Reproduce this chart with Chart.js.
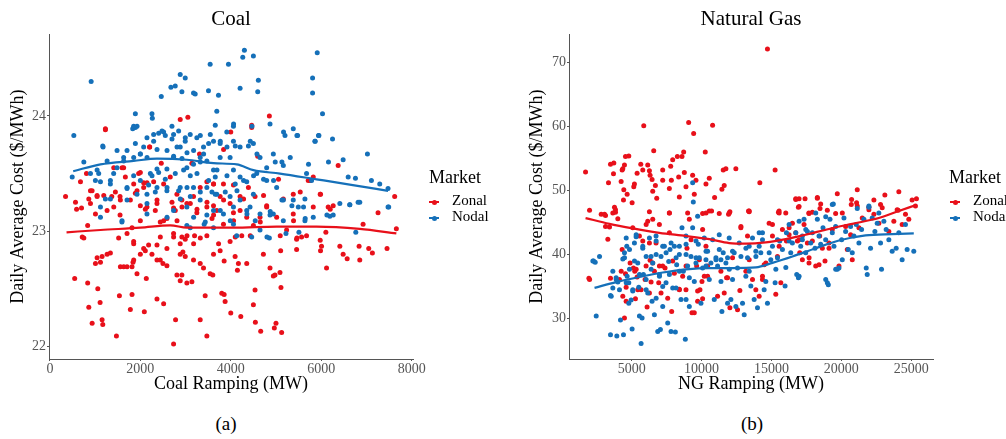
<!DOCTYPE html>
<html>
<head>
<meta charset="utf-8">
<script src="https://cdn.jsdelivr.net/npm/chart.js@4"></script>
<style>
  html, body { margin: 0; padding: 0; background: #fff; }
  body { width: 1006px; height: 439px; position: relative; overflow: hidden; font-family: 'Liberation Serif', 'DejaVu Serif', serif; }
  .panel { position: absolute; top: 0; height: 400px; }
  .legend { position: absolute; color: #000; white-space: nowrap; }
  .legend .ttl { position: absolute; font-size: 18px; line-height: 18px; }
  .legend .item { position: absolute; font-size: 15px; line-height: 15px; }
  .key { position: absolute; width: 10px; height: 2px; }
  .key::after { content: ''; position: absolute; left: 2.5px; top: -1.5px; width: 5px; height: 5px; border-radius: 50%; background: inherit; }
  .sub { position: absolute; top: 413px; font-size: 19px; line-height: 22px; width: 60px; text-align: center; }
</style>
</head>
<body>
<div class="panel" style="left:0; width:500px;"><canvas id="coalChart"></canvas></div>
<div class="panel" style="left:520px; width:486px;"><canvas id="gasChart"></canvas></div>

<div class="legend" style="left:429px; top:0;">
  <div class="ttl" style="left:0; top:168px;">Market</div>
  <div class="key" style="left:0; top:201px; background:#e8101a;"></div>
  <div class="item" style="left:23px; top:193px;">Zonal</div>
  <div class="key" style="left:0; top:217px; background:#1570b9;"></div>
  <div class="item" style="left:23px; top:209px;">Nodal</div>
</div>
<div class="legend" style="left:949px; top:0;">
  <div class="ttl" style="left:0; top:168px;">Market</div>
  <div class="key" style="left:1px; top:201px; background:#e8101a;"></div>
  <div class="item" style="left:24px; top:193px;">Zonal</div>
  <div class="key" style="left:1px; top:217px; background:#1570b9;"></div>
  <div class="item" style="left:24px; top:209px;">Nodal</div>
</div>

<div class="sub" style="left:196px;">(a)</div>
<div class="sub" style="left:722px;">(b)</div>

<script>
const RED = '#e8101a';
const BLUE = '#1570b9';
const FONT = "'Liberation Serif', 'DejaVu Serif', serif";

// ---- Coal panel: [ramping MW, cost $/MWh] ----
const coalXTicks = [0, 2000, 4000, 6000, 8000];
const coalYTicks = [22, 23, 24];

const coalNodal = [
  [529,23.83],[912,24.30],[493,23.47],[750,23.60],[1169,23.74],[1265,23.61],[1485,23.70],[1706,23.70],
  [1890,24.02],[1890,23.90],[1831,23.89],[2257,24.02],[2265,23.98],[2463,24.17],[2676,24.25],[2772,24.26],
  [2882,24.36],[2993,24.33],[2919,24.21],[3176,24.20],[3213,24.19],[3507,24.22],[3544,24.45],[3728,24.18],
  [3691,24.04],[3949,24.45],[4206,24.24],[4265,24.51],[4301,24.57],[4500,24.52],[4610,24.31],[4596,24.21],
  [4868,23.93],[5199,23.83],[5382,23.89],[5478,23.83],[5809,24.33],[5809,24.20],[5912,24.55],[6029,24.02],
  [5860,23.78],[5949,23.83],[6250,23.80],[7022,23.67],[6485,23.62],[6596,23.47],[6757,23.46],[7110,23.44],
  [7294,23.41],[7478,23.37],[7493,23.21],[6816,23.25],[6632,23.23],[6412,23.24],[5676,23.50],[5787,23.44],
  [5640,23.28],[5382,23.27],[5162,23.27],[5015,23.38],[5162,23.57],[4941,23.67],[4794,23.55],[4647,23.64],
  [4500,23.76],[4390,23.74],[4206,23.73],[4059,23.78],[4059,23.91],[3912,23.86],[3765,23.76],[3618,23.78],
  [3397,23.73],[3250,23.81],[3103,23.84],[2993,23.78],[2882,23.73],[2735,23.84],[2699,23.91],[2515,23.86],
  [2294,23.84],[2147,23.81],[2074,23.73],[2000,23.67],[1853,23.64],[1632,23.61],[1485,23.55],[1338,23.44],
  [1118,23.43],[1044,23.53],[897,23.50],[1118,23.21],[1338,23.28],[1706,23.38],[2000,23.44],[2221,23.50],
  [2368,23.54],[2588,23.54],[2735,23.64],[3029,23.55],[3176,23.58],[3324,23.64],[3471,23.61],[3618,23.53],
  [3765,23.64],[3985,23.64],[4059,23.53],[4206,23.47],[4353,23.43],[4574,23.50],[4794,23.44],[4500,23.32],
  [4206,23.27],[3985,23.30],[3691,23.32],[3471,23.38],[3176,23.38],[2882,23.38],[2588,23.35],[2368,23.38],
  [2147,23.32],[1926,23.32],[1706,23.27],[3029,23.21],[3324,23.27],[3618,23.18],[4059,23.21],[4353,23.18],
  [4647,23.15],[4941,23.15],[6632,23.23],[6853,23.25],[7478,23.21],[6765,22.99],[6265,23.14],[6191,23.13],
  [5824,23.12],[5640,23.09],[5493,23.21],[5507,22.99],[5221,22.98],[5162,23.09],[4868,23.14],[4853,22.94],
  [4647,23.01],[4463,22.95],[4426,23.21],[4132,22.96],[4059,23.06],[3838,23.15],[3618,23.03],[3412,23.06],
  [3471,23.14],[3103,23.03],[3029,23.05],[2735,23.18],[2147,23.24],[2147,23.15],[1118,23.12],[1593,23.08],
  [1852,23.91],[1927,23.91],[2405,23.85],[2479,23.87],[2552,23.83],[2700,23.80],[2847,23.87],[2994,23.81],
  [3326,23.83],[3547,23.84],[3510,23.76],[1175,23.73],[1890,23.76],[2294,23.78],[2369,23.71],[2590,23.70],
  [2811,23.73],[3032,23.68],[3178,23.70],[3399,23.67],[2000,23.67],[2148,23.64],[1631,23.64],[2736,23.65],
  [2921,23.63],[3326,23.60],[1079,23.50],[1410,23.50],[1852,23.48],[2258,23.48],[2405,23.51],[2552,23.45],
  [2773,23.50],[2957,23.53],[3105,23.48],[3253,23.50],[3510,23.44],[3657,23.47],[1337,23.41],[1706,23.37],
  [2183,23.40],[2331,23.34],[2590,23.38],[2847,23.35],[3032,23.38],[3105,23.30],[3326,23.34],[3584,23.34],
  [1006,23.44],[1227,23.28],[2884,23.28],[1595,23.09],[3178,23.12],[3436,23.08],[2590,23.12],
  [3657,23.92],[4062,23.93],[4468,23.91],[3768,23.78],[3916,23.73],[4099,23.74],[4431,23.78],[4579,23.67],
  [5167,23.86],[5463,23.83],[5940,23.83],[5867,23.78],[4983,23.60],[5131,23.60],[5315,23.64],[5719,23.58],
  [6161,23.60],[3695,23.53],[3916,23.48],[4099,23.41],[4283,23.44],[4504,23.48],[4725,23.45],[4946,23.44],
  [3878,23.34],[4137,23.35],[3657,23.32],[5131,23.27],[5352,23.22],[5609,23.21],[5646,23.11],[4873,23.17],
  [6126,23.14],[3768,23.18],[4358,23.15],[3989,23.09],[4541,23.09],[4800,22.95]
];

const coalZonal = [
  [1228,23.89],[3051,23.99],[4853,24.00],[4463,23.92],[4463,23.90],[4000,23.86],[2882,23.97],[2206,23.73],
  [3309,23.67],[3140,23.59],[4596,23.65],[2463,23.59],[1963,23.50],[2147,23.42],[1669,23.47],[1596,23.55],
  [1412,23.55],[809,23.50],[676,23.43],[897,23.35],[346,23.30],[566,23.25],[699,23.20],[860,23.28],
  [1044,23.30],[1191,23.31],[1368,23.30],[1551,23.30],[1853,23.41],[1890,23.33],[2074,23.38],[2294,23.43],
  [2515,23.41],[2662,23.47],[2809,23.32],[2919,23.27],[3029,23.24],[3176,23.30],[3324,23.38],[3471,23.43],
  [3618,23.41],[3765,23.30],[3838,23.41],[4059,23.40],[4206,23.30],[4390,23.38],[4537,23.30],[4794,23.22],
  [5162,23.28],[5382,23.32],[5713,23.44],[5824,23.47],[5985,23.32],[6154,23.21],[6375,23.57],[7625,23.30],
  [7257,23.16],[3985,23.24],[3471,23.21],[2735,23.20],[2368,23.24],[2000,23.22],[1551,23.14],[1265,23.18],
  [1007,23.15],[590,23.19],[715,22.95],[750,22.94],[835,23.05],[1007,22.72],[1044,22.77],[1154,22.78],
  [1118,22.73],[1265,22.80],[1338,22.81],[548,22.59],[835,22.55],[1059,22.50],[1110,22.38],[860,22.34],
  [934,22.20],[1154,22.23],[1169,22.19],[1471,22.09],[1537,22.44],[1779,22.32],[1816,22.45],[1559,22.69],
  [1632,22.69],[1706,22.69],[1816,22.69],[1838,22.73],[1853,22.75],[1926,22.63],[2000,22.80],[2088,22.30],
  [2110,22.83],[2132,22.59],[2257,22.80],[2368,22.41],[2515,22.37],[2368,22.75],[2441,22.75],[2500,22.72],
  [2588,22.70],[2779,22.23],[2735,22.02],[2809,22.62],[2882,22.57],[2919,22.62],[3029,22.55],[3140,22.56],
  [2882,22.80],[2941,22.82],[2993,22.78],[3176,22.75],[3324,22.72],[3397,22.68],[3324,22.23],[3434,22.44],
  [3471,22.09],[3544,22.63],[3603,22.62],[3765,22.83],[3853,22.74],[3801,22.46],[3853,22.45],[3875,22.39],
  [4000,22.29],[4096,22.78],[4169,22.72],[4147,22.66],[4221,22.26],[4353,22.72],[4500,22.36],[4537,22.49],
  [4544,22.21],[4662,22.13],[4721,22.80],[4868,22.68],[4941,22.61],[4978,22.62],[4963,22.16],[5000,22.20],
  [5110,22.51],[5125,22.12],[5103,22.83],[5088,22.64],[5456,22.84],[5456,22.93],[5566,22.95],[5676,22.96],
  [6007,22.87],[5985,22.83],[6118,22.68],[6412,22.87],[6485,22.80],[6574,22.76],[6838,22.87],[6853,22.75],
  [7051,22.85],[7132,22.81],[7456,22.85],[7662,23.02],[6926,23.06],[6103,22.99],[5235,23.01],[4353,23.12],
  [4059,23.16],[3691,23.18],[3250,23.16],[2919,22.95],[2993,22.93],[2882,22.89],[2588,22.85],[2368,22.88],
  [2074,22.85],[1853,22.89],[1706,22.98],[1816,23.03],[2000,23.09],[2441,23.08],[2588,23.11],[2735,22.98],
  [3199,22.96],[3471,22.96],[3618,22.80],[3838,23.06],[3985,22.91],[4243,22.96],[4500,23.05],[4647,23.12],
  [4794,23.21],[5015,23.12],[5382,23.15],[5824,23.21],[6265,23.22],[897,23.24],[1412,23.21],[2147,23.21],
  [3618,23.22],[4206,23.18],
  [1227,23.88],[2206,23.73],[1631,23.55],[2000,23.51],[2073,23.42],[933,23.35],[1043,23.31],[1448,23.34],
  [1558,23.27],[1779,23.27],[1927,23.35],[2369,23.27],[2700,23.25],[2773,23.18],[2921,23.21],[3105,23.24],
  [3253,23.19],[3474,23.25],[3620,23.14],[2811,23.09],[2515,23.09],[2331,23.18],[2110,23.19],[2442,22.95],
  [2736,22.95],[3032,22.96],[3326,22.94],[1520,22.94],[1852,22.91],[2183,22.88],[3178,22.89],
  [3841,23.71],[5056,23.45],[5757,23.44],[5978,23.32],[3620,23.41],[3841,23.27],[4283,23.28],[4725,23.31],
  [5536,23.34],[6199,23.19],[3585,23.11],[4062,23.09],[4652,23.08],[5388,23.09],[4099,22.95],[4431,22.96],
  [5094,22.96],[5463,22.94],[5978,22.92],[3730,22.89]
];

const coalNodalFit = [
  [515,23.52],[1118,23.58],[1853,23.61],[2368,23.63],[3029,23.62],[3618,23.59],[4132,23.58],[4500,23.53],
  [5088,23.50],[5897,23.45],[6699,23.40],[7478,23.35]
];
const coalZonalFit = [
  [368,22.99],[1118,23.01],[2000,23.03],[2662,23.05],[3029,23.03],[4059,23.03],[5015,23.04],[5897,23.04],
  [6853,23.02],[7662,22.98]
];

// ---- Natural gas panel ----
const gasXTicks = [5000, 10000, 15000, 20000, 25000];
const gasYTicks = [30, 40, 50, 60, 70];

const gasZonal = [
  [1690,52.9],[1976,46.9],[3333,51.2],[3476,54.1],[3714,54.3],[3690,52.6],[3762,47.4],[3833,46.6],
  [3119,46.1],[4238,51.4],[4310,53.2],[4357,53.4],[4476,54.0],[4548,55.3],[4786,55.4],[4405,48.5],
  [4429,50.1],[4667,49.4],[5024,48.1],[5143,50.6],[5190,51.0],[5381,52.7],[5643,54.1],[5857,60.1],
  [5786,53.2],[6143,54.0],[6262,53.1],[6310,52.4],[6262,46.7],[6571,56.2],[6690,50.8],[6452,51.7],
  [6500,49.9],[6786,48.8],[7214,53.2],[7214,51.6],[7690,50.3],[7786,53.8],[7833,51.6],[7929,54.8],
  [8262,55.3],[8357,52.1],[8405,49.0],[8595,55.3],[8714,56.0],[8762,52.8],[8881,50.6],[9000,46.5],
  [9071,60.6],[9357,52.4],[9429,58.9],[9476,49.4],[9595,51.6],[10071,46.4],[10262,56.0],[10310,51.0],
  [10548,51.9],[10714,46.8],[10786,60.2],[10929,48.9],[11452,50.2],[11548,53.2],[11619,50.8],[11738,53.4],
  [12024,46.7],[12452,53.4],[13405,46.7],[14167,51.2],[14714,72.1],[15262,53.2],[15500,46.6],[16738,48.7],
  [16976,48.7],[17405,48.7],[16929,47.4],[17690,46.4],[17929,46.6],[18286,48.8],[18524,47.9],[18476,47.2],
  [19000,46.9],[19714,49.5],[19595,46.4],[20738,48.6],[20714,47.8],[21143,50.1],[21095,48.1],[21976,47.4],
  [22333,48.5],[22810,47.8],[23119,49.3],[24119,49.8],[24071,46.9],[25071,48.5],[25381,48.7],
  [1929,36.3],[2810,46.3],[3119,44.4],[3405,44.3],[3286,42.4],[3476,36.3],[3833,47.0],[4000,45.6],
  [4119,36.1],[4310,40.8],[4548,37.0],[4595,34.9],[4595,32.7],[4476,30.1],[4881,38.7],[5071,44.2],
  [5119,37.9],[5214,37.4],[5262,33.1],[5381,36.5],[5548,42.9],[5667,34.5],[5952,36.1],[6024,38.2],
  [6095,31.8],[6143,45.2],[6310,39.1],[6381,35.7],[6619,37.4],[6738,41.8],[6929,35.6],[6976,44.7],
  [7095,34.0],[7214,38.2],[7381,37.9],[7571,33.2],[7690,46.5],[7857,31.1],[8048,37.1],[8405,34.6],
  [8643,36.6],[8881,34.5],[8952,41.0],[9119,45.5],[9310,30.9],[9476,30.9],[9643,38.2],[9714,32.7],
  [9881,34.5],[10024,35.8],[10071,33.1],[10190,36.6],[10310,41.3],[10429,38.2],[10548,46.8],[11143,33.5],
  [11262,46.4],[11381,37.4],[11619,34.0],[11786,36.4],[11929,46.3],[12024,31.7],[12214,39.5],[12571,31.4],
  [12738,34.4],[12810,44.2],[13167,37.4],[13286,42.9],[13357,46.8],[13643,36.1],[13881,34.5],[14119,33.5],
  [14357,36.6],[14476,38.4],[14833,44.9],[15071,42.9],[15310,33.8],[15429,39.7],[15548,46.8],[15786,43.9],
  [16024,46.5],[16071,42.1],[16500,44.9],[16738,43.4],[16857,42.1],[17024,40.3],[17214,39.2],[17333,44.7],
  [17571,41.8],[17690,38.7],[17929,42.1],[18167,38.2],[18452,42.9],[18643,41.0],[18833,39.0],[19119,41.8],
  [19357,43.9],[19833,38.2],[20071,46.5],[20310,44.4],[20429,40.8],[20667,43.1],[20786,39.2],[21143,47.6],
  [21262,44.2],[21500,45.7],[21976,47.0],[22333,46.3],[22690,44.9],[22929,47.3],[23405,43.6],[23762,45.2],
  [24000,47.0],[24357,44.7],[24595,46.3],[24833,45.5],[25310,47.6],
  [3050,46.3],[3643,46.5],[6029,44.7],[6500,45.5],[7693,46.5],[5786,42.1],[6264,41.8],[7693,43.4],
  [9243,42.3],[1979,36.1],[4243,37.4],[5314,37.7],[6500,38.7],[6979,38.2],[7929,39.0],[8886,38.2],
  [9836,39.2],[4357,33.5],[5429,34.5],[6264,34.0],[8407,34.5],[9714,34.3],
  [16743,48.6],[16979,47.5],[18286,48.9],[17679,46.5],[15550,46.5],[13407,46.8],[11979,46.5],[10314,46.5],
  [15071,44.7],[16264,44.2],[12814,44.4],[10071,43.9],[16979,42.3],[16264,43.1],[15550,41.3],[19121,41.0],
  [13407,39.2],[14600,38.7],[17693,39.5],[18407,38.4],[10429,36.6],[11857,36.4],[14357,36.1],[15671,35.6]
];

const gasNodal = [
  [9357,51.2],[9405,48.2],[19429,47.9],[21143,47.2],[21976,47.4],
  [2452,30.4],[2262,39.0],[2381,38.8],[2690,39.7],[3476,33.6],[3476,27.5],[3643,34.8],[3929,27.3],
  [3881,36.4],[4000,35.7],[4119,34.5],[4190,29.8],[4405,27.5],[4357,39.3],[4476,40.3],[4643,41.3],
  [4667,36.6],[4786,35.6],[4786,32.4],[4952,32.9],[5024,28.4],[5071,34.5],[5190,41.8],[5310,42.8],
  [5429,38.7],[5500,34.9],[5548,30.4],[5667,26.1],[5738,30.1],[5786,41.0],[5833,36.9],[6024,36.1],
  [6143,34.0],[6262,42.6],[6381,39.7],[6452,32.7],[6500,38.7],[6619,30.6],[6738,42.9],[6857,28.0],
  [6976,36.9],[7048,28.3],[7095,39.7],[7214,31.9],[7333,41.3],[7452,35.6],[7571,29.3],[7643,38.9],
  [7738,40.8],[7810,28.0],[7929,34.8],[8048,41.3],[8119,27.9],[8214,38.4],[8405,40.0],[8524,33.0],
  [8595,44.2],[8690,37.4],[8833,26.8],[8881,42.9],[9000,38.2],[9119,31.9],[9238,39.7],[9357,44.2],
  [9476,35.8],[9595,38.7],[9714,46.0],[9762,41.6],[9833,39.5],[9952,32.4],[10071,37.9],[10190,42.6],
  [10310,39.2],[10429,40.5],[10548,36.1],[10667,38.7],[10786,42.3],[10905,33.0],[11024,39.5],[11143,38.2],
  [11262,43.1],[11381,39.2],[11452,31.1],[11548,40.3],[11738,38.7],[11857,32.4],[11976,42.6],[12095,33.0],
  [12214,36.1],[12333,40.3],[12452,31.9],[12571,37.9],[12690,41.8],[12929,32.4],[13048,30.6],[13167,36.6],
  [13286,39.5],[13405,41.3],[13524,35.1],[13643,42.6],[13762,33.0],[13881,40.5],[14000,31.7],[14119,43.4],
  [14238,40.3],[14357,42.3],[14476,34.5],[14595,35.8],[14714,32.4],[14952,39.2],[15071,41.3],[15262,35.6],
  [15429,39.5],[15595,42.1],[15976,35.1],[16071,43.4],[16262,44.7],[16381,40.3],[16500,41.8],[16810,36.9],
  [16929,36.4],[17095,41.3],[17214,42.9],[17333,45.5],[17452,40.3],[17571,43.6],[17810,41.8],[17929,43.4],
  [18119,41.0],[18286,45.5],[18405,42.9],[18524,41.6],[18690,44.2],[18881,42.3],[19000,35.6],[19071,35.3],
  [19190,45.5],[19357,43.4],[19476,41.3],[19595,44.4],[19714,37.7],[19833,37.9],[20024,42.3],[20190,45.7],
  [20310,43.6],[20500,40.8],[20667,44.4],[20786,40.3],[20905,42.9],[21071,44.7],[21262,41.8],[21452,43.9],
  [21619,45.5],[21786,37.9],[21857,36.9],[21976,47.6],[22095,41.0],[22214,45.7],[22405,43.6],[22571,44.9],
  [22690,46.5],[22810,41.8],[22881,37.7],[23048,45.2],[23214,43.9],[23405,42.3],[23643,40.5],[23929,41.0],
  [24119,43.4],[24357,39.2],[24595,44.7],[24714,40.8],[25190,40.5],
  [4600,42.6],[5314,43.1],[4836,40.8],[5786,41.3],[6743,42.1],[7214,41.3],[7814,41.8],[8407,41.3],
  [8886,41.6],[9600,42.1],[4479,39.5],[5193,39.0],[6029,39.7],[6743,40.0],[7457,40.3],[8171,39.5],
  [8886,40.0],[9600,39.5],[2214,39.0],[3643,37.4],[4836,37.7],[5550,36.9],[6386,37.7],[6979,36.6],
  [7693,36.9],[8407,37.4],[9121,36.4],[3886,36.1],[4600,35.6],[5071,34.3],[6029,34.5],[7214,35.0],
  [8171,34.8],[3529,33.5],[6743,33.2],[8886,33.0],
  [19357,47.8],[18171,46.5],[18886,45.9],[16979,45.2],[17457,43.9],[16743,43.4],[16264,42.1],[17214,42.3],
  [14357,43.4],[15429,42.3],[10314,40.5],[11264,40.8],[12214,40.5],[13171,41.0],[14121,41.3],[11029,39.2],
  [11857,39.5],[12814,39.7],[13886,39.7],[14836,40.3],[15786,40.8],[15314,37.7],[16029,38.0],[16979,36.6],
  [10314,38.2],[11979,37.7],[13407,37.4],[11386,35.8],[18886,36.1],[19600,37.7],[20071,39.2]
];

const gasZonalFit = [
  [1690,45.7],[3405,44.8],[5071,44.1],[6976,43.4],[8881,42.9],[10548,42.4],[11976,41.8],[13167,41.7],
  [14595,41.9],[16024,42.4],[17452,43.1],[19119,44.0],[20786,44.8],[22690,45.7],[24119,46.8],[25310,47.7]
];
const gasNodalFit = [
  [2333,34.8],[3881,35.7],[5548,36.5],[7214,37.2],[8881,37.7],[10548,37.9],[12214,37.9],[13881,38.0],
  [15071,38.7],[16500,39.7],[18167,41.0],[19833,42.2],[21738,43.0],[23643,43.2],[25190,43.3]
];

function toXY(pairs) {
    return pairs.map(p => ({ x: p[0], y: p[1] }));
}

function pointSet(label, pairs, color, order) {
    return {
        label: label,
        data: toXY(pairs),
        backgroundColor: color,
        borderColor: color,
        borderWidth: 0,
        pointRadius: 2.5,
        showLine: false,
        order: order
    };
}

function fitSet(label, pairs, color) {
    return {
        label: label,
        data: toXY(pairs),
        borderColor: color,
        backgroundColor: color,
        borderWidth: 2.2,
        pointRadius: 0,
        showLine: true,
        cubicInterpolationMode: 'monotone',
        order: 0
    };
}

function makeChart(id, cfg) {
    const ctx = document.getElementById(id).getContext('2d');
    return new Chart(ctx, {
        type: 'scatter',
        data: {
            datasets: [
                fitSet('Nodal fit', cfg.nodalFit, BLUE),
                fitSet('Zonal fit', cfg.zonalFit, RED),
                pointSet('Nodal', cfg.nodal, BLUE, 1),
                pointSet('Zonal', cfg.zonal, RED, 2)
            ]
        },
        options: {
            responsive: true,
            maintainAspectRatio: false,
            animation: false,
            events: [],
            layout: { padding: { top: 7, left: 0, right: cfg.padRight, bottom: 0 } },
            plugins: {
                legend: { display: false },
                tooltip: { enabled: false },
                title: {
                    display: true,
                    text: cfg.title,
                    fullSize: false,
                    color: '#000',
                    font: { family: FONT, size: 21, weight: 'normal' },
                    padding: { top: 0, bottom: 2 }
                }
            },
            scales: {
                x: {
                    type: 'linear',
                    min: cfg.xMin,
                    max: cfg.xMax,
                    afterBuildTicks: s => { s.ticks = cfg.xTicks.map(v => ({ value: v })); },
                    afterFit: s => { s.height = 41; s.paddingLeft = 0; s.paddingRight = 0; },
                    border: { display: true, color: '#555', width: 1 },
                    grid: { drawOnChartArea: false, drawTicks: true, tickLength: 2, color: '#555' },
                    ticks: {
                        padding: 0,
                        maxRotation: 0,
                        autoSkip: false,
                        color: '#555',
                        font: { family: FONT, size: 14 },
                        callback: v => String(v)
                    },
                    title: {
                        display: true,
                        text: cfg.xTitle,
                        color: '#000',
                        font: { family: FONT, size: 18 },
                        padding: { top: 0, bottom: 5 }
                    }
                },
                y: {
                    type: 'linear',
                    min: cfg.yMin,
                    max: cfg.yMax,
                    afterBuildTicks: s => { s.ticks = cfg.yTicks.map(v => ({ value: v })); },
                    afterFit: s => { s.width = 49; s.paddingTop = 0; s.paddingBottom = 0; },
                    border: { display: true, color: '#555', width: 1 },
                    grid: { drawOnChartArea: false, drawTicks: true, tickLength: 2, color: '#555' },
                    ticks: {
                        padding: 1,
                        autoSkip: false,
                        color: '#555',
                        font: { family: FONT, size: 14 },
                        callback: v => String(v)
                    },
                    title: {
                        display: true,
                        text: 'Daily Average Cost ($/MWh)',
                        color: '#000',
                        font: { family: FONT, size: 18 },
                        padding: { top: cfg.yTitlePad, bottom: 0 }
                    }
                }
            }
        }
    });
}

makeChart('coalChart', {
    title: 'Coal',
    xTitle: 'Coal Ramping (MW)',
    nodal: coalNodal, zonal: coalZonal,
    nodalFit: coalNodalFit, zonalFit: coalZonalFit,
    xMin: -20, xMax: 8030, yMin: 21.89, yMax: 24.71,
    xTicks: coalXTicks, yTicks: coalYTicks,
    padRight: 87, yTitlePad: 7
});

makeChart('gasChart', {
    title: 'Natural Gas',
    xTitle: 'NG Ramping (MW)',
    nodal: gasNodal, zonal: gasZonal,
    nodalFit: gasNodalFit, zonalFit: gasZonalFit,
    xMin: 505, xMax: 26566, yMin: 23.7, yMax: 74.4,
    xTicks: gasXTicks, yTicks: gasYTicks,
    padRight: 73, yTitlePad: 6
});
</script>
</body>
</html>
